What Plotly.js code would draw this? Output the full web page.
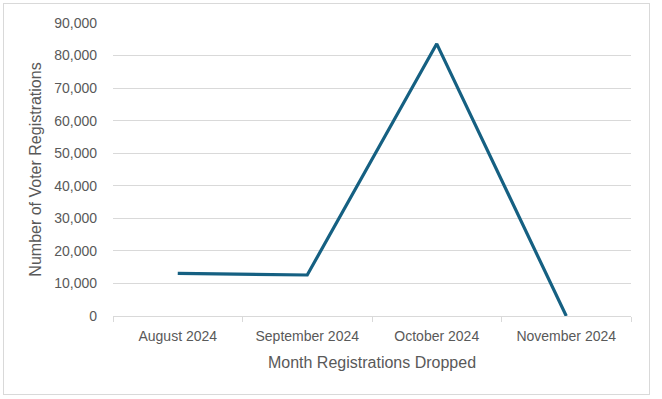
<!DOCTYPE html>
<html>
<head>
<meta charset="utf-8">
<script src="https://cdn.plot.ly/plotly-3.0.1.min.js"></script>
<style>
  html, body { margin: 0; padding: 0; background: #ffffff; }
  #wrap { position: relative; width: 662px; height: 399px; }
  #chart { position: absolute; left: 0; top: 0; width: 662px; height: 399px; }
  #frame { position: absolute; left: 3px; top: 3px; width: 647px; height: 392px;
           border: 1px solid #d9d9d9; box-sizing: border-box; pointer-events: none; }
</style>
</head>
<body>
<div id="wrap">
  <div id="chart"></div>
  <div id="frame"></div>
</div>
<script>
const months = ["August 2024", "September 2024", "October 2024", "November 2024"];
const registrations = [13100, 12600, 83600, 0];
const yTicks = [0, 10000, 20000, 30000, 40000, 50000, 60000, 70000, 80000, 90000];

const fontFam = "'Liberation Sans', Arial, sans-serif";
const textColor = "#595959";

Plotly.newPlot("chart", [{
  x: months,
  y: registrations,
  type: "scatter",
  mode: "lines",
  line: { color: "#156082", width: 3.2 },
  cliponaxis: false,
  hoverinfo: "skip"
}], {
  width: 662,
  height: 399,
  margin: { l: 113, r: 31, t: 23, b: 83 },
  paper_bgcolor: "#ffffff",
  plot_bgcolor: "#ffffff",
  showlegend: false,
  font: { family: fontFam, color: textColor, size: 14 },
  xaxis: {
    type: "category",
    range: [-0.5, 3.5],
    tickson: "boundaries",
    ticks: "outside",
    ticklen: 5,
    tickcolor: "#d9d9d9",
    tickwidth: 1,
    showline: true,
    linecolor: "#d9d9d9",
    linewidth: 1,
    showgrid: false,
    zeroline: false,
    ticklabelstandoff: 7,
    tickfont: { family: fontFam, size: 14, color: textColor },
    title: { text: "Month Registrations Dropped", font: { family: fontFam, size: 16, color: textColor }, standoff: 14 },
    fixedrange: true
  },
  yaxis: {
    range: [0, 90000],
    tickvals: yTicks,
    tickformat: ",",
    showgrid: true,
    gridcolor: "#d9d9d9",
    gridwidth: 1,
    zeroline: false,
    showline: false,
    ticks: "",
    ticklabelstandoff: 15,
    tickfont: { family: fontFam, size: 14, color: textColor },
    title: { text: "Number of Voter Registrations", font: { family: fontFam, size: 16, color: textColor }, standoff: 8 },
    fixedrange: true
  }
}, { displayModeBar: false, staticPlot: true });
</script>
</body>
</html>
